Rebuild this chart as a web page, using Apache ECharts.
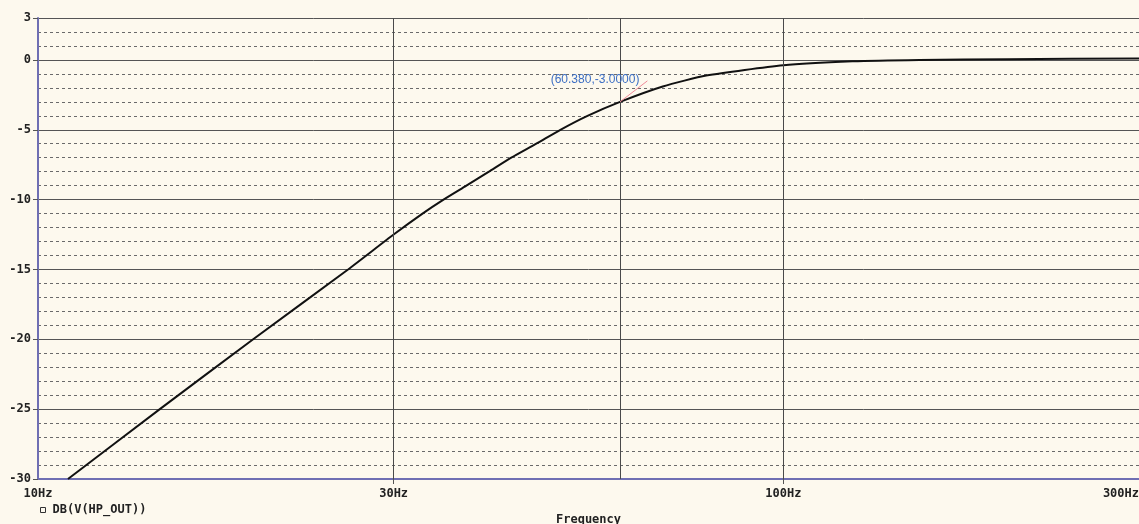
<!DOCTYPE html>
<html>
<head>
<meta charset="utf-8">
<script src="https://cdn.jsdelivr.net/npm/echarts@6/dist/echarts.min.js"></script>
<style>
  html, body { margin: 0; padding: 0; background: #fdf9ee; }
  #chart { width: 1139px; height: 524px; }
</style>
</head>
<body>
<div id="chart"></div>
<script>
// High-pass filter response, DB(V(HP_OUT)) versus frequency
const freqHz = [10.97, 14.57, 19.44, 26.06, 30, 32.8, 35.0, 37.56, 40.27, 43.15, 46.62, 50.21, 54.6, 60.38, 68.9, 78.8, 100, 123.8, 152.2, 200, 300];
const gainDb = [-30, -25, -20, -15, -12.5, -11, -10, -9, -8, -7, -6, -5, -4, -3, -1.9, -1.12, -0.38, -0.1, 0, 0.05, 0.1];

const xTickValues = [10, 30, 100, 300];
const xGridValues = [30, 100];
const cursorPoint = [60.38, -3.0];
const cursorLeaderEnd = [65.7, -1.5];
const cursorText = '(60.380,-3.0000)';
const seriesName = 'DB(V(HP_OUT))';

const monoFont = { fontFamily: 'DejaVu Sans Mono', fontWeight: 'bold', fontSize: 12, color: '#222' };
const axisBlue = '#6f6fb3';
const gridDark = '#555555';

const curve = freqHz.map((f, i) => [f, gainDb[i]]);

const chart = echarts.init(document.getElementById('chart'), null, { renderer: 'canvas' });
chart.setOption({
  backgroundColor: '#fdf9ee',
  animation: false,
  grid: { left: 38, right: 0, top: 18, bottom: 45, containLabel: false, outerBoundsMode: 'none' },
  legend: {
    left: 35, top: 499,
    icon: 'rect', itemWidth: 5, itemHeight: 5, itemGap: 4,
    data: [{ name: seriesName, itemStyle: { color: 'transparent', borderColor: '#333', borderWidth: 1 } }],
    textStyle: Object.assign({}, monoFont, { padding: [0, 0, 0, 2] })
  },
  xAxis: {
    type: 'log', logBase: 10, min: 10, max: 300,
    name: 'Frequency', nameLocation: 'middle', nameGap: 35,
    nameTextStyle: Object.assign({}, monoFont),
    axisLine: { show: true, onZero: false, lineStyle: { color: axisBlue, width: 2 } },
    axisTick: { show: true, length: 5, customValues: xGridValues, lineStyle: { color: gridDark } },
    axisLabel: {
      customValues: xTickValues, margin: 9,
      formatter: v => v + 'Hz',
      alignMinLabel: 'center', alignMaxLabel: 'right',
      showMinLabel: true, showMaxLabel: true, hideOverlap: false,
      ...monoFont
    },
    splitLine: { show: false },
    minorSplitLine: { show: false }
  },
  yAxis: [
    {
      type: 'value', min: -30, max: 3, interval: 1, position: 'left',
      axisLine: { show: false }, axisTick: { show: false }, axisLabel: { show: false },
      splitLine: { show: true, lineStyle: { color: '#6a6a6a', width: 1, type: [3, 3] } }
    },
    {
      type: 'value', min: -30, max: 3, interval: 5, position: 'left', offset: 0,
      axisLine: { show: true, onZero: false, lineStyle: { color: axisBlue, width: 2 } },
      axisTick: { show: true, length: 5, lineStyle: { color: gridDark } },
      axisLabel: { margin: 7, ...monoFont },
      splitLine: { show: true, lineStyle: { color: gridDark, width: 1, type: 'solid' } }
    }
  ],
  series: [
    {
      // vertical grid lines and the cursor line
      type: 'line', name: 'grid', data: [], xAxisIndex: 0, yAxisIndex: 1,
      silent: true, z: 1,
      markLine: {
        silent: true, symbol: 'none', animation: false,
        label: { show: false },
        lineStyle: { color: '#4a4a4a', width: 1, type: 'solid' },
        data: xGridValues.concat([cursorPoint[0]]).map(v => ({ xAxis: v }))
      }
    },
    {
      type: 'line', name: seriesName, data: curve, xAxisIndex: 0, yAxisIndex: 1,
      showSymbol: false, smooth: 0.2, clip: true, z: 3,
      lineStyle: { color: '#111111', width: 2 },
      itemStyle: { color: '#111111' },
      markLine: {
        silent: true, symbol: 'none', animation: false,
        label: { show: false },
        lineStyle: { color: '#f08a98', width: 1, type: 'solid' },
        data: [[{ coord: cursorPoint }, { coord: cursorLeaderEnd }]]
      },
      markPoint: {
        silent: true, animation: false,
        symbol: 'circle', symbolSize: 1,
        itemStyle: { color: 'rgba(0,0,0,0)' },
        data: [{
          coord: cursorPoint,
          label: {
            show: true, formatter: cursorText, position: 'inside',
            offset: [-25, -22],
            fontFamily: 'Liberation Sans', fontSize: 12, color: '#3d6fc4'
          }
        }]
      }
    }
  ]
});
</script>
</body>
</html>
